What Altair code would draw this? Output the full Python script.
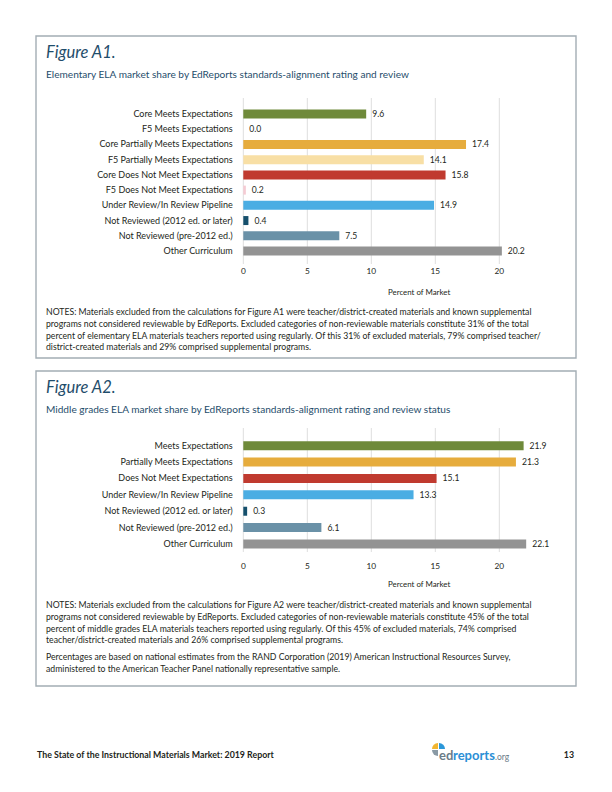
import math
import altair as alt
import pandas as pd

# ---------------- data ----------------
a1_categories = [
    "Core Meets Expectations",
    "F5 Meets Expectations",
    "Core Partially Meets Expectations",
    "F5 Partially Meets Expectations",
    "Core Does Not Meet Expectations",
    "F5 Does Not Meet Expectations",
    "Under Review/In Review Pipeline",
    "Not Reviewed (2012 ed. or later)",
    "Not Reviewed (pre-2012 ed.)",
    "Other Curriculum",
]
a1_values = [9.6, 0.0, 17.4, 14.1, 15.8, 0.2, 14.9, 0.4, 7.5, 20.2]
a1_colors = ["#6f8a3a", "#6f8a3a", "#e6ac3d", "#f8dfa5", "#c03a2f",
             "#f5cbd3", "#4aade3", "#154f6c", "#6a91a7", "#939393"]

a2_categories = [
    "Meets Expectations",
    "Partially Meets Expectations",
    "Does Not Meet Expectations",
    "Under Review/In Review Pipeline",
    "Not Reviewed (2012 ed. or later)",
    "Not Reviewed (pre-2012 ed.)",
    "Other Curriculum",
]
a2_values = [21.9, 21.3, 15.1, 13.3, 0.3, 6.1, 22.1]
a2_colors = ["#6f8a3a", "#e6ac3d", "#c03a2f", "#4aade3", "#154f6c", "#6a91a7", "#939393"]

tick_values = [0, 5, 10, 15, 20]

a1_title = "Figure A1."
a1_subtitle = "Elementary ELA market share by EdReports standards-alignment rating and review"
a1_notes = [
    "NOTES: Materials excluded from the calculations for Figure A1 were teacher/district-created materials and known supplemental",
    "programs not considered reviewable by EdReports. Excluded categories of non-reviewable materials constitute 31% of the total",
    "percent of elementary ELA materials teachers reported using regularly. Of this 31% of excluded materials, 79% comprised teacher/",
    "district-created materials and 29% comprised supplemental programs.",
]
a2_title = "Figure A2."
a2_subtitle = "Middle grades ELA market share by EdReports standards-alignment rating and review status"
a2_notes = [
    "NOTES: Materials excluded from the calculations for Figure A2 were teacher/district-created materials and known supplemental",
    "programs not considered reviewable by EdReports. Excluded categories of non-reviewable materials constitute 45% of the total",
    "percent of middle grades ELA materials teachers reported using regularly. Of this 45% of excluded materials, 74% comprised",
    "teacher/district-created materials and 26% comprised supplemental programs.",
]
source_notes = [
    "Percentages are based on national estimates from the RAND Corporation (2019) American Instructional Resources Survey,",
    "administered to the American Teacher Panel nationally representative sample.",
]
x_title = "Percent of Market"
footer_left = "The State of the Instructional Materials Market: 2019 Report"
page_number = "13"

FONT = "Lato"
TEAL = "#1f4d6b"
TEXT = "#231f20"

df1 = pd.DataFrame({"cat": a1_categories, "value": a1_values, "color": a1_colors})
df2 = pd.DataFrame({"cat": a2_categories, "value": a2_values, "color": a2_colors})
ticks_df = pd.DataFrame({"tick": tick_values})
one = alt.Data(values=[{"k": 1}])


def txt(text, x, y, size=8.5, color=TEXT, align="left", baseline="middle", **kw):
    return alt.Chart(one).mark_text(
        text=text, font=FONT, fontSize=size, color=color, align=align,
        baseline=baseline, **kw
    ).encode(x=alt.value(x), y=alt.value(y))


def frame(x0, x1, y0, y1):
    return alt.Chart(one).mark_rect(
        fill="transparent", stroke="#a3adb4", strokeWidth=1.4
    ).encode(x=alt.value(x0), x2=alt.value(x1), y=alt.value(y0), y2=alt.value(y1))


def arc(x, y, t0, t1, color):
    return alt.Chart(one).mark_arc(
        theta=t0, theta2=t1, outerRadius=6, innerRadius=0, color=color
    ).encode(x=alt.value(x), y=alt.value(y))


def figure(df, cats, y_range, grid_top, grid_bottom, tick_y, xt_y):
    xs = alt.Scale(domain=[0, 20], range=[235.3, 491.3], nice=False, zero=True, clamp=False)
    ys = alt.Scale(type="point", domain=cats, range=y_range, padding=0)
    grid = alt.Chart(ticks_df).mark_rule(color="#dedede", strokeWidth=1).encode(
        x=alt.X("tick:Q", scale=xs, axis=None),
        y=alt.value(grid_top), y2=alt.value(grid_bottom),
    )
    tick_labels = alt.Chart(ticks_df).mark_text(
        font=FONT, fontSize=8.3, color=TEXT, baseline="middle"
    ).encode(
        x=alt.X("tick:Q", scale=xs, axis=None),
        y=alt.value(tick_y),
        text=alt.Text("tick:Q", format="d"),
    )
    bars = alt.Chart(df).mark_bar(size=9).encode(
        x=alt.X("value:Q", scale=xs, axis=None),
        y=alt.Y("cat:N", scale=ys, axis=None, sort=cats),
        color=alt.Color("color:N", scale=None),
    )
    vals = alt.Chart(df).mark_text(
        font=FONT, fontSize=8.6, color=TEXT, align="left", baseline="middle", dx=6
    ).encode(
        x=alt.X("value:Q", scale=xs, axis=None),
        y=alt.Y("cat:N", scale=ys, axis=None, sort=cats),
        text=alt.Text("value:Q", format=".1f"),
    )
    cat_labels = alt.Chart(df).mark_text(
        font=FONT, fontSize=9.0, color=TEXT, align="right", baseline="middle"
    ).encode(
        x=alt.value(224.7),
        y=alt.Y("cat:N", scale=ys, axis=None, sort=cats),
        text="cat:N",
    )
    xt = txt(x_title, 380, xt_y, size=7.9)
    return alt.layer(grid, tick_labels, bars, vals, cat_labels, xt)


fig1 = figure(df1, a1_categories, [106, 243], 90, 256, 264, 285)
fig2 = figure(df2, a2_categories, [437.7, 536], 420, 544, 558.7, 577)

layers = [
    frame(28, 568, 28, 350),
    frame(28, 568, 363, 678),
    txt(a1_title, 38, 49.7, size=16.5, color=TEAL, baseline="alphabetic", fontStyle="italic"),
    txt(a1_subtitle, 38, 67, size=10.1, color=TEAL),
    txt(a1_notes, 38, 304, size=8.7, lineHeight=11.8),
    fig1,
    txt(a2_title, 38, 385, size=16.5, color=TEAL, baseline="alphabetic", fontStyle="italic"),
    txt(a2_subtitle, 38, 402, size=10.1, color=TEAL),
    txt(a2_notes, 38, 597, size=8.7, lineHeight=11.8),
    txt(source_notes, 38, 649, size=8.7, lineHeight=11.8),
    fig2,
    txt(footer_left, 29, 747, size=8.8, color=TEXT, fontWeight="bold"),
    txt(page_number, 566, 747, size=8.8, color=TEXT, align="right", fontWeight="bold"),
    arc(430, 741, 3 * math.pi / 2, 2 * math.pi, "#f2b631"),
    arc(431, 741, 0, math.pi / 2, "#2b97d9"),
    arc(430, 742, math.pi, 3 * math.pi / 2, "#8a9aa5"),
    txt("ed", 431, 748, size=13, color="#6b7c88", fontWeight="bold"),
    txt("reports", 445, 748, size=13, color="#2b8fd6", fontWeight="bold"),
    txt(".org", 487, 749, size=8.5, color="#6b7c88"),
]

chart = alt.layer(*layers).resolve_scale(
    x="independent", y="independent"
).properties(
    width=596, height=776, padding=0, autosize=alt.AutoSizeParams(type="none")
).configure_view(stroke="transparent")

chart.save("out.html", embed_options={"renderer": "svg", "actions": False})
